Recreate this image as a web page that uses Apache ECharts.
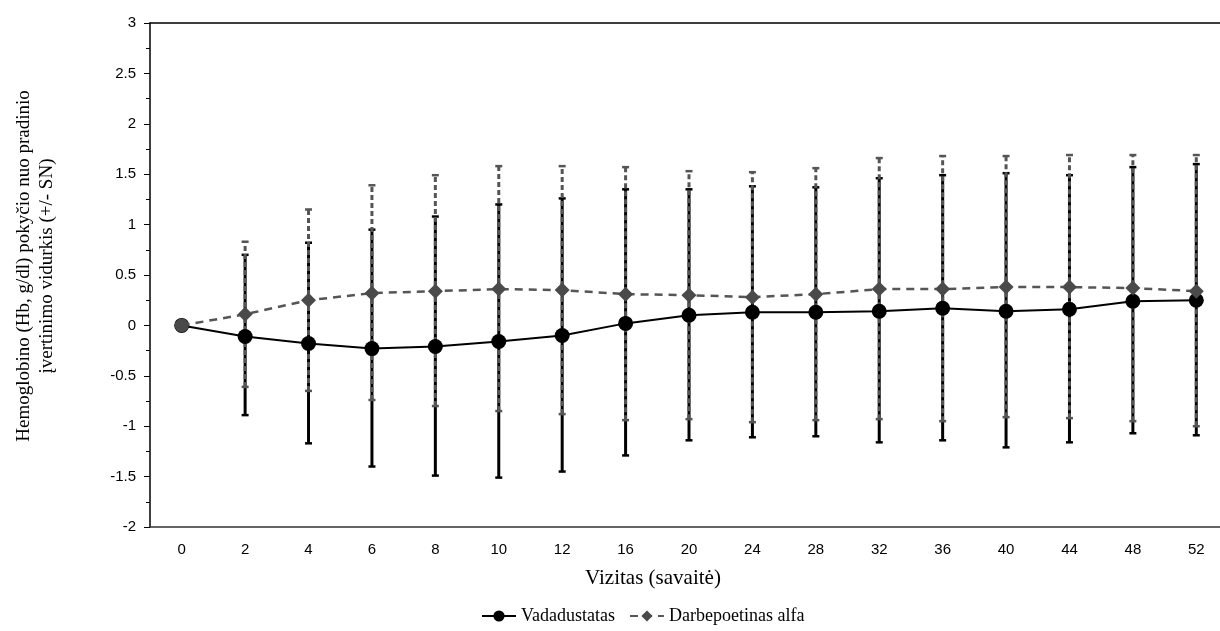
<!DOCTYPE html>
<html>
<head>
<meta charset="utf-8">
<script src="https://cdn.jsdelivr.net/npm/echarts@6/dist/echarts.min.js"></script>
<style>
html,body{margin:0;padding:0;background:#fff;}
#chart{width:1220px;height:631px;}
</style>
</head>
<body>
<div id="chart"></div>
<script>
var weeks = ['0','2','4','6','8','10','12','16','20','24','28','32','36','40','44','48','52'];
var yTicks = [-2,-1.5,-1,-0.5,0,0.5,1,1.5,2,2.5,3];

var vadaMean  = [0,-0.11,-0.18,-0.23,-0.21,-0.16,-0.10,0.02,0.10,0.13,0.13,0.14,0.17,0.14,0.16,0.24,0.25];
var vadaUpper = [null,0.70,0.82,0.95,1.08,1.20,1.26,1.35,1.35,1.38,1.37,1.46,1.49,1.51,1.49,1.57,1.60];
var vadaLower = [null,-0.89,-1.17,-1.40,-1.49,-1.51,-1.45,-1.29,-1.14,-1.11,-1.10,-1.16,-1.14,-1.21,-1.16,-1.07,-1.09];

var darbMean  = [0,0.11,0.25,0.32,0.34,0.36,0.35,0.31,0.30,0.28,0.31,0.36,0.36,0.38,0.38,0.37,0.34];
var darbUpper = [null,0.83,1.15,1.39,1.49,1.58,1.58,1.57,1.53,1.52,1.56,1.66,1.68,1.68,1.69,1.69,1.69];
var darbLower = [null,-0.61,-0.65,-0.74,-0.80,-0.85,-0.88,-0.94,-0.93,-0.96,-0.94,-0.93,-0.95,-0.91,-0.92,-0.95,-1.00];

var seriesNames = ['Vadadustatas','Darbepoetinas alfa'];
var yTitle = 'Hemoglobino (Hb, g/dl) pokyčio nuo pradinio\nįvertinimo vidurkis (+/- SN)';
var xTitle = 'Vizitas (savaitė)';

function errData(lo, hi){
  var out = [];
  for (var i = 0; i < lo.length; i++) {
    if (lo[i] != null && hi[i] != null) out.push([i, lo[i], hi[i]]);
  }
  return out;
}

function errRender(color, dashed){
  return function(params, api){
    var x = api.value(0);
    var lo = api.coord([x, api.value(1)]);
    var hi = api.coord([x, api.value(2)]);
    var hw = 3.5;
    var ls = {stroke: color, lineWidth: 3, lineDash: dashed ? [5,3] : null};
    var cs = {stroke: color, lineWidth: 2.5};
    return {type:'group', children:[
      {type:'line', shape:{x1:lo[0], y1:lo[1], x2:hi[0], y2:hi[1]}, style: ls},
      {type:'line', shape:{x1:hi[0]-hw, y1:hi[1], x2:hi[0]+hw, y2:hi[1]}, style: cs},
      {type:'line', shape:{x1:lo[0]-hw, y1:lo[1], x2:lo[0]+hw, y2:lo[1]}, style: cs}
    ]};
  };
}

var darbLineData = darbMean.map(function(v, i){
  if (i === 0) return {value: v, symbol: 'circle', symbolSize: 14};
  return v;
});

var chart = echarts.init(document.getElementById('chart'), null, {renderer:'canvas'});
chart.setOption({
  animation: false,
  backgroundColor: '#fff',
  grid: {left: 150, right: -8, top: 23, bottom: 104, containLabel: false, outerBoundsMode: 'none'},
  xAxis: [{
    type: 'category', data: weeks, position: 'bottom', boundaryGap: true,
    axisLine: {show: true, onZero: false, lineStyle: {color: '#333', width: 1.5}},
    axisTick: {show: false},
    axisLabel: {color: '#000', fontFamily: 'Liberation Sans, Arial', fontSize: 15, margin: 15}
  },{
    type: 'category', data: weeks, position: 'top',
    axisLine: {show: true, onZero: false, lineStyle: {color: '#000', width: 1.5}},
    axisTick: {show: false}, axisLabel: {show: false}
  }],
  yAxis: {
    type: 'value', min: -2, max: 3, interval: 0.5,
    axisLine: {show: true, lineStyle: {color: '#000', width: 1.5}},
    axisTick: {show: true, length: 6, lineStyle: {color: '#000'}},
    minorTick: {show: true, splitNumber: 2, length: 4, lineStyle: {color: '#000'}},
    splitLine: {show: false},
    axisLabel: {color: '#000', fontFamily: 'Liberation Sans, Arial', fontSize: 15, margin: 14,
      formatter: function(v){ return yTicks.indexOf(v) >= 0 ? String(v) : ''; }}
  },
  legend: {
    data: seriesNames, bottom: 1, left: 476, itemWidth: 34, itemHeight: 14, itemGap: 14,
    textStyle: {color: '#000', fontFamily: 'Liberation Serif, Times New Roman', fontSize: 18}
  },
  graphic: [{
    type: 'text', x: 653, y: 578,
    style: {text: xTitle, fill: '#000', font: '21px "Liberation Serif", "Times New Roman"',
      textAlign: 'center', textVerticalAlign: 'middle'}
  },{
    type: 'text', x: 36, y: 266, rotation: Math.PI / 2,
    style: {text: yTitle, fill: '#000', font: '19px "Liberation Serif", "Times New Roman"',
      lineHeight: 23, textAlign: 'center', textVerticalAlign: 'middle'}
  }],
  series: [{
    name: 'errV', type: 'custom', renderItem: errRender('#000', false),
    data: errData(vadaLower, vadaUpper), encode: {x: 0, y: [1, 2]}, z: 1, silent: true
  },{
    name: 'errD', type: 'custom', renderItem: errRender('#555', true),
    data: errData(darbLower, darbUpper), encode: {x: 0, y: [1, 2]}, z: 2, silent: true
  },{
    name: seriesNames[0], type: 'line', data: vadaMean, z: 5,
    symbol: 'circle', symbolSize: 15,
    lineStyle: {color: '#000', width: 2},
    itemStyle: {color: '#000'}
  },{
    name: seriesNames[1], type: 'line', data: darbLineData, z: 6,
    symbol: 'diamond', symbolSize: 15,
    lineStyle: {color: '#555', width: 2.5, type: [8,6]},
    itemStyle: {color: '#4a4a4a'}
  }]
});
</script>
</body>
</html>
